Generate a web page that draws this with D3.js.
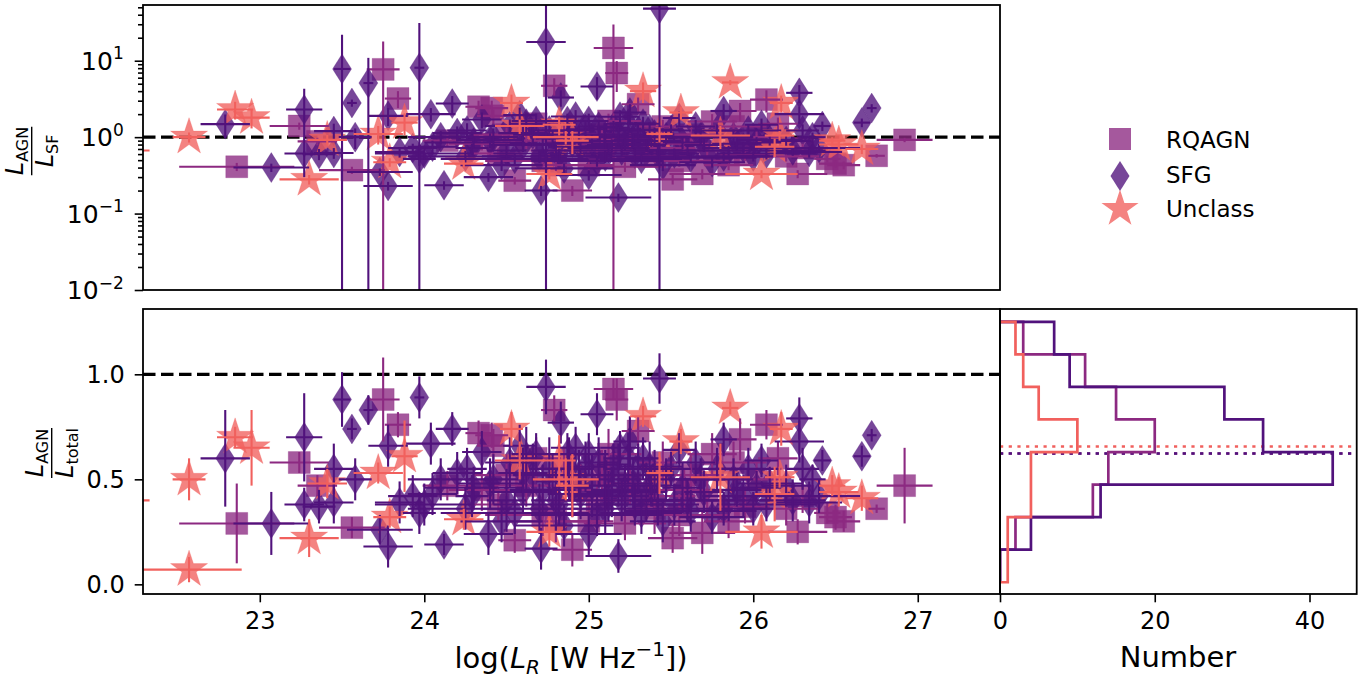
<!DOCTYPE html>
<html>
<head>
<meta charset="utf-8">
<script src="https://cdn.jsdelivr.net/npm/d3@7"></script>
<style>
  body { margin: 0; background: #fff; }
  text { font-family: "DejaVu Sans", sans-serif; }
</style>
</head>
<body>
<div id="chart"></div>
<script>

// ---------------- data ----------------
const classNames = ["RQAGN", "SFG", "Unclass"];

// RQAGN: log L_R, its error, L_AGN/L_total, its error, L_AGN/L_SF, its error
const rqagnLogL    = [22.86, 23.24, 23.75, 23.84, 23.56, 24.33, 24.41, 24.14, 23.35, 24.79, 25.15, 25.17, 24.55, 24.90, 26.08, 25.92, 26.27, 26.50, 26.75, 26.92, 25.30, 25.75, 25.69, 25.51, 24.62, 24.85, 25.05, 25.40, 25.58, 25.22, 26.30, 24.45, 24.72, 25.95, 24.42, 25.08, 26.45, 26.15,
                      24.50, 24.68, 24.95, 25.00, 25.12, 25.25, 25.35, 25.45, 25.62, 25.72, 25.85, 25.88, 26.02, 26.20, 24.35, 24.80, 25.55, 26.55];
const rqagnLogLErr = [0.35, 0.18, 0.10, 0.08, 0.20, 0.08, 0.10, 0.15, 0.12, 0.08, 0.12, 0.07, 0.10, 0.12, 0.10, 0.10, 0.18, 0.10, 0.05, 0.17, 0.10, 0.15, 0.20, 0.15, 0.20, 0.15, 0.30, 0.20, 0.15, 0.25, 0.10, 0.15, 0.35, 0.15, 0.10, 0.10, 0.08, 0.12,
                      0.20, 0.15, 0.25, 0.15, 0.20, 0.15, 0.30, 0.15, 0.20, 0.25, 0.15, 0.20, 0.15, 0.20, 0.20, 0.30, 0.30, 0.10];
const rqagnFrac    = [0.29, 0.58, 0.88, 0.76, 0.27, 0.72, 0.71, 0.47, 0.47, 0.83, 0.93, 0.88, 0.21, 0.165, 0.76, 0.69, 0.25, 0.32, 0.36, 0.47, 0.73, 0.62, 0.245, 0.22, 0.47, 0.55, 0.40, 0.36, 0.45, 0.29, 0.42, 0.38, 0.33, 0.37, 0.66, 0.52, 0.34, 0.60,
                      0.52, 0.60, 0.45, 0.30, 0.62, 0.48, 0.42, 0.58, 0.52, 0.40, 0.30, 0.58, 0.50, 0.36, 0.45, 0.30, 0.33, 0.30];
const rqagnFracErr = [0.19, 0.05, 0.20, 0.06, 0.05, 0.06, 0.06, 0.07, 0.05, 0.07, 0.05, 0.10, 0.06, 0.08, 0.07, 0.10, 0.06, 0.06, 0.02, 0.18, 0.07, 0.10, 0.10, 0.07, 0.10, 0.10, 0.10, 0.12, 0.10, 0.08, 0.08, 0.08, 0.10, 0.08, 0.08, 0.12, 0.05, 0.08,
                      0.10, 0.10, 0.12, 0.10, 0.12, 0.10, 0.10, 0.10, 0.10, 0.10, 0.08, 0.10, 0.08, 0.08, 0.10, 0.10, 0.10, 0.05];
const rqagnRatio   = [0.41, 1.40, 7.7, 3.2, 0.37, 2.5, 2.4, 0.90, 0.88, 4.7, 14.7, 6.9, 0.27, 0.20, 3.1, 2.2, 0.33, 0.45, 0.57, 0.92, 2.7, 1.6, 0.33, 0.28, 0.90, 1.2, 0.67, 0.56, 0.82, 0.41, 0.72, 0.61, 0.49, 0.59, 1.9, 1.08, 0.52, 1.5,
                      1.08, 1.5, 0.82, 0.43, 1.63, 0.92, 0.72, 1.38, 1.08, 0.67, 0.43, 1.38, 1.0, 0.56, 0.82, 0.43, 0.49, 0.43];
const rqagnRatioErr= [0.05, 0.15, 10.2, 0.8, 0.04, 0.5, 0.6, 0.15, 0.10, 1.2, 15, 3.0, 0.03, 0.03, 1.0, 0.6, 0.04, 0.05, 0.03, 0.06, 0.6, 0.4, 0.05, 0.04, 0.2, 0.3, 0.1, 0.1, 0.15, 0.06, 0.1, 0.1, 0.08, 0.1, 0.4, 0.3, 0.05, 0.3,
                      0.25, 0.35, 0.15, 0.07, 0.4, 0.2, 0.12, 0.3, 0.25, 0.1, 0.06, 0.3, 0.2, 0.08, 0.15, 0.07, 0.08, 0.05];

// SFG
const sfgLogL    = [22.79, 23.07, 23.27, 23.27, 23.50, 23.66, 23.56, 23.45, 23.58, 23.36, 23.45, 23.97, 23.78, 23.73, 24.12, 24.39, 24.17, 24.04, 23.78, 23.85, 23.93, 23.97, 24.29, 24.26, 24.42, 24.74, 24.83, 25.05, 24.71, 25.18, 25.43, 26.28, 26.28, 26.42, 26.05, 25.82, 25.19, 26.72, 26.66, 26.34, 24.52, 24.60, 24.66, 24.70, 24.78, 24.88, 24.95, 25.00, 25.05, 25.10, 25.15, 25.22, 25.28, 25.33, 25.38, 25.45, 25.50, 25.60, 25.68, 25.75, 25.90, 26.00, 26.20, 24.35, 24.47, 24.85, 24.58, 25.25, 24.20, 24.05, 25.55, 26.36, 25.97, 25.00, 24.92, 24.30, 24.62, 24.98, 25.12, 25.40, 25.65, 25.85, 26.10, 24.80, 25.30,
                    24.25, 24.40, 24.50, 24.55, 24.68, 24.72, 24.76, 24.82, 24.90, 24.94, 25.02, 25.06, 25.10, 25.14, 25.18, 25.20, 25.24, 25.27, 25.32, 25.35, 25.42, 25.47, 25.52, 25.57, 25.62, 25.70, 25.78, 25.82, 25.88, 25.94, 26.02, 26.08, 26.24, 26.30, 26.40, 24.10, 24.00, 24.60, 24.87, 25.37];
const sfgLogLErr = [0.15, 0.23, 0.11, 0.12, 0.05, 0.03, 0.03, 0.12, 0.10, 0.10, 0.12, 0.03, 0.15, 0.20, 0.12, 0.15, 0.10, 0.15, 0.12, 0.15, 0.15, 0.10, 0.10, 0.12, 0.15, 0.12, 0.08, 0.10, 0.10, 0.20, 0.10, 0.08, 0.15, 0.05, 0.10, 0.08, 0.12, 0.03, 0.05, 0.20, 0.15, 0.20, 0.12, 0.35, 0.10, 0.15, 0.20, 0.12, 0.40, 0.15, 0.10, 0.20, 0.30, 0.10, 0.18, 0.20, 0.12, 0.35, 0.15, 0.20, 0.15, 0.10, 0.15, 0.12, 0.25, 0.30, 0.10, 0.10, 0.15, 0.15, 0.10, 0.08, 0.20, 0.20, 0.15, 0.30, 0.10, 0.12, 0.25, 0.12, 0.12, 0.25, 0.20, 0.15, 0.20,
                    0.35, 0.20, 0.12, 0.45, 0.15, 0.20, 0.12, 0.40, 0.12, 0.25, 0.15, 0.12, 0.45, 0.15, 0.12, 0.35, 0.15, 0.12, 0.25, 0.12, 0.15, 0.30, 0.15, 0.12, 0.40, 0.12, 0.15, 0.30, 0.12, 0.25, 0.15, 0.30, 0.20, 0.10, 0.25, 0.20, 0.30, 0.15, 0.10, 0.20];
const sfgFrac    = [0.60, 0.29, 0.70, 0.38, 0.88, 0.83, 0.74, 0.55, 0.50, 0.37, 0.39, 0.89, 0.18, 0.26, 0.19, 0.24, 0.74, 0.67, 0.66, 0.39, 0.42, 0.34, 0.42, 0.55, 0.50, 0.94, 0.77, 0.81, 0.17, 0.135, 0.98, 0.79, 0.68, 0.59, 0.59, 0.69, 0.65, 0.71, 0.61, 0.39, 0.58, 0.44, 0.52, 0.36, 0.49, 0.55, 0.43, 0.62, 0.33, 0.50, 0.57, 0.45, 0.38, 0.60, 0.47, 0.30, 0.55, 0.40, 0.50, 0.32, 0.45, 0.36, 0.47, 0.63, 0.30, 0.28, 0.66, 0.68, 0.53, 0.43, 0.64, 0.50, 0.55, 0.24, 0.65, 0.46, 0.60, 0.56, 0.42, 0.52, 0.58, 0.40, 0.48, 0.40, 0.55,
                    0.36, 0.48, 0.40, 0.34, 0.62, 0.45, 0.55, 0.38, 0.46, 0.52, 0.47, 0.58, 0.36, 0.44, 0.52, 0.40, 0.60, 0.48, 0.34, 0.44, 0.40, 0.50, 0.38, 0.46, 0.35, 0.44, 0.55, 0.36, 0.50, 0.42, 0.46, 0.38, 0.40, 0.55, 0.42, 0.50, 0.38, 0.53, 0.62, 0.56];
const sfgFracErr = [0.23, 0.15, 0.21, 0.08, 0.13, 0.07, 0.05, 0.12, 0.10, 0.08, 0.10, 0.10, 0.10, 0.07, 0.05, 0.10, 0.08, 0.10, 0.10, 0.10, 0.10, 0.10, 0.10, 0.10, 0.12, 0.13, 0.10, 0.10, 0.10, 0.08, 0.12, 0.10, 0.10, 0.05, 0.08, 0.08, 0.08, 0.03, 0.05, 0.10, 0.12, 0.10, 0.15, 0.12, 0.13, 0.15, 0.12, 0.10, 0.10, 0.14, 0.10, 0.12, 0.10, 0.10, 0.10, 0.10, 0.08, 0.10, 0.10, 0.08, 0.08, 0.08, 0.10, 0.10, 0.10, 0.10, 0.10, 0.12, 0.10, 0.10, 0.08, 0.07, 0.10, 0.10, 0.10, 0.10, 0.15, 0.12, 0.12, 0.12, 0.10, 0.10, 0.08, 0.15, 0.12,
                    0.10, 0.12, 0.15, 0.10, 0.10, 0.12, 0.15, 0.10, 0.14, 0.12, 0.15, 0.12, 0.12, 0.12, 0.15, 0.10, 0.12, 0.12, 0.10, 0.14, 0.12, 0.10, 0.10, 0.12, 0.10, 0.10, 0.10, 0.08, 0.10, 0.10, 0.08, 0.08, 0.10, 0.10, 0.08, 0.10, 0.10, 0.12, 0.10, 0.12];
const sfgRatio   = [1.48, 0.40, 2.3, 0.61, 7.8, 5.1, 2.8, 1.2, 1.0, 0.60, 0.62, 8.1, 0.23, 0.35, 0.235, 0.30, 2.75, 2.0, 1.9, 0.64, 0.72, 0.52, 0.72, 1.22, 1.0, 17.6, 3.3, 4.6, 0.20, 0.162, 48, 3.8, 2.0, 1.4, 1.45, 2.2, 1.85, 2.4, 1.55, 0.64, 1.4, 0.79, 1.08, 0.56, 0.96, 1.22, 0.75, 1.63, 0.49, 1.0, 1.33, 0.82, 0.61, 1.5, 0.89, 0.43, 1.22, 0.67, 1.0, 0.47, 0.82, 0.56, 0.89, 1.7, 0.43, 0.39, 1.94, 2.1, 1.13, 0.75, 1.78, 1.0, 1.22, 0.32, 1.86, 0.85, 1.5, 1.27, 0.72, 1.08, 1.38, 0.67, 0.92, 0.67, 1.22,
                    0.56, 0.92, 0.67, 0.52, 1.63, 0.82, 1.22, 0.61, 0.85, 1.08, 0.89, 1.38, 0.56, 0.79, 1.08, 0.67, 1.5, 0.92, 0.52, 0.79, 0.67, 1.0, 0.61, 0.85, 0.54, 0.79, 1.22, 0.56, 1.0, 0.72, 0.85, 0.61, 0.67, 1.22, 0.72, 1.0, 0.61, 1.13, 1.63, 1.27];
const sfgRatioErr= [0.5, 0.05, 2.0, 0.05, 14, 5.8, 0.3, 0.3, 0.3, 0.1, 0.1, 23, 0.03, 0.04, 0.03, 0.04, 0.7, 0.4, 0.5, 0.1, 0.1, 0.1, 0.1, 0.3, 0.3, 40, 0.8, 1.5, 0.03, 0.02, 60, 1.0, 0.5, 0.2, 0.3, 0.5, 0.4, 0.3, 0.2, 0.1, 0.3, 0.15, 0.3, 0.1, 0.25, 0.3, 0.15, 0.4, 0.08, 0.3, 0.3, 0.15, 0.1, 0.35, 0.15, 0.07, 0.25, 0.1, 0.2, 0.07, 0.15, 0.08, 0.15, 0.4, 0.07, 0.06, 0.5, 0.6, 0.25, 0.15, 0.4, 0.15, 0.25, 0.05, 0.4, 0.15, 0.4, 0.3, 0.12, 0.25, 0.3, 0.1, 0.15, 0.12, 0.3,
                    0.1, 0.2, 0.15, 0.08, 0.4, 0.2, 0.3, 0.1, 0.2, 0.3, 0.2, 0.3, 0.1, 0.15, 0.3, 0.1, 0.4, 0.2, 0.08, 0.15, 0.1, 0.2, 0.1, 0.15, 0.08, 0.15, 0.25, 0.08, 0.2, 0.12, 0.15, 0.1, 0.1, 0.25, 0.1, 0.2, 0.1, 0.25, 0.4, 0.3];

// Unclass (null ratio = not shown in the upper panel)
const unclassLogL    = [22.57, 22.57, 22.85, 22.95, 23.30, 22.05, 23.41, 23.72, 23.88, 23.79, 24.24, 24.53, 24.58, 24.82, 24.90, 24.76, 25.33, 25.86, 25.56, 26.17, 26.48, 26.13, 26.16, 26.05, 25.80, 26.52, 26.66, 25.43, 24.86];
const unclassLogLErr = [0.10, 0.32, 0.11, 0.11, 0.18, 0.28, 0.12, 0.15, 0.08, 0.10, 0.12, 0.07, 0.15, 0.10, 0.10, 0.14, 0.08, 0.05, 0.07, 0.07, 0.08, 0.12, 0.09, 0.22, 0.18, 0.12, 0.10, 0.08, 0.20];
const unclassFrac    = [0.50, 0.07, 0.70, 0.65, 0.22, 0.40, 0.48, 0.53, 0.61, 0.32, 0.31, 0.74, 0.59, 0.59, 0.47, 0.25, 0.80, 0.84, 0.68, 0.74, 0.47, 0.43, 0.51, 0.25, 0.51, 0.44, 0.41, 0.53, 0.50];
const unclassFracErr = [0.10, 0.06, 0.05, 0.18, 0.09, 0.02, 0.07, 0.05, 0.17, 0.05, 0.05, 0.08, 0.09, 0.12, 0.15, 0.07, 0.05, 0.03, 0.06, 0.08, 0.05, 0.13, 0.05, 0.08, 0.16, 0.07, 0.06, 0.10, 0.10];
const unclassRatio   = [1.0, null, 2.3, 1.8, 0.28, 0.67, 0.92, 1.1, 1.55, 0.47, 0.45, 2.8, 1.4, 1.45, 0.9, 0.33, 4.0, 5.2, 2.1, 2.8, 0.9, 0.75, 1.05, 0.33, 1.05, 0.8, 0.7, 1.1, 1.0];
const unclassRatioErr= [0.15, null, 0.6, 0.5, 0.04, 0.02, 0.15, 0.3, 0.5, 0.06, 0.05, 0.8, 0.3, 0.4, 0.3, 0.05, 1.2, 0.4, 0.4, 0.7, 0.1, 0.2, 0.15, 0.04, 0.35, 0.1, 0.1, 0.25, 0.2];

// histogram of L_AGN/L_total (horizontal, step)
const histEdges     = [0.01, 0.165, 0.32, 0.475, 0.63, 0.785, 0.94, 1.095, 1.25];
const rqagnCounts   = [0, 2, 12, 14, 20, 15, 11, 3];
const sfgCounts     = [0, 4, 13, 43, 34, 29, 9, 7];
const unclassCounts = [1, 1, 4, 4, 10, 5, 3, 2];
const histMedians   = [0.623, 0.623, 0.656];

// ticks
const topTicks    = [0.01, 0.1, 1, 10];
const topTickExp  = ["\u22122", "\u22121", "0", "1"];
const bottomTicks = [0.0, 0.5, 1.0];
const xTicks      = [23, 24, 25, 26, 27];
const histTicks   = [0, 20, 40];

// ---------------- layout ----------------
const width = 1369, height = 680;
const upperBox = {left: 143, right: 1000, top: 5, bottom: 290};
const lowerBox = {left: 143, right: 1000, top: 309, bottom: 594};
const histBox = {left: 1000, right: 1356.7, top: 309, bottom: 594};

const colors = {RQAGN: "#8c2981", SFG: "#51127c", Unclass: "#f1605d"};

let svg = d3.select("#chart").append("svg")
    .attr("width", width)
    .attr("height", height);

// scales
let x = d3.scaleLinear().domain([22.29, 27.5]).range([upperBox.left, upperBox.right]);
let yTop = d3.scaleLog().domain([0.01, 53.6]).range([upperBox.bottom, upperBox.top]);
let yBot = d3.scaleLinear().domain([-0.046, 1.311]).range([lowerBox.bottom, lowerBox.top]);
let xHist = d3.scaleLinear().domain([0, 46.1]).range([histBox.left, histBox.right]);

// marker shapes
function starPath(R) {
    let pts = [];
    for (let i = 0; i < 10; i++) {
        let r = i % 2 === 0 ? R : R * 0.382;
        let a = -Math.PI / 2 + i * Math.PI / 5;
        pts.push([r * Math.cos(a), r * Math.sin(a)]);
    }
    return "M" + pts.map(p => p[0].toFixed(2) + "," + p[1].toFixed(2)).join("L") + "Z";
}
const markers = {
    RQAGN: "M-11,-11H11V11H-11Z",
    SFG: "M0,-15L9.5,0L0,15L-9.5,0Z",
    Unclass: starPath(19.5)
};

function makeRows(logL, logLErr, frac, fracErr, ratio, ratioErr) {
    return logL.map((d, i) => ({x: d, xe: logLErr[i], f: frac[i], fe: fracErr[i], r: ratio[i], re: ratioErr[i]}));
}
const series = [
    {name: "RQAGN", rows: makeRows(rqagnLogL, rqagnLogLErr, rqagnFrac, rqagnFracErr, rqagnRatio, rqagnRatioErr), counts: rqagnCounts},
    {name: "SFG", rows: makeRows(sfgLogL, sfgLogLErr, sfgFrac, sfgFracErr, sfgRatio, sfgRatioErr), counts: sfgCounts},
    {name: "Unclass", rows: makeRows(unclassLogL, unclassLogLErr, unclassFrac, unclassFracErr, unclassRatio, unclassRatioErr), counts: unclassCounts}
];

// clip paths
let defs = svg.append("defs");
[["clipTop", upperBox], ["clipBot", lowerBox], ["clipHist", histBox]].forEach(([id, b]) => {
    defs.append("clipPath").attr("id", id).append("rect")
        .attr("x", b.left).attr("y", b.top)
        .attr("width", b.right - b.left).attr("height", b.bottom - b.top);
});

function dashedOne(g, y) {
    g.append("line")
        .attr("x1", upperBox.left).attr("x2", upperBox.right)
        .attr("y1", y).attr("y2", y)
        .attr("stroke", "black").attr("stroke-width", 3.2)
        .attr("stroke-dasharray", "12.5,5.5");
}

// error bars of one class
function drawBars(g, s, yScale, yKey, eKey, yFloor) {
    let pts = s.rows.filter(d => d[yKey] !== null);
    let bars = g.append("g").attr("stroke", colors[s.name]).attr("stroke-width", 2.1);
    bars.selectAll(".xe")
        .data(pts)
        .join("line")
        .attr("class", "xe")
        .attr("x1", d => x(d.x - d.xe))
        .attr("x2", d => x(d.x + d.xe))
        .attr("y1", d => yScale(d[yKey]))
        .attr("y2", d => yScale(d[yKey]));
    bars.selectAll(".ye")
        .data(pts)
        .join("line")
        .attr("class", "ye")
        .attr("x1", d => x(d.x))
        .attr("x2", d => x(d.x))
        .attr("y1", d => {
            let lo = d[yKey] - d[eKey];
            return lo > 0 ? yScale(lo) : yFloor;
        })
        .attr("y2", d => yScale(d[yKey] + d[eKey]));
}

function drawMarkers(g, s, yScale, yKey) {
    let pts = s.rows.filter(d => d[yKey] !== null);
    g.append("g").selectAll("path")
        .data(pts)
        .join("path")
        .attr("d", markers[s.name])
        .attr("transform", d => "translate(" + x(d.x) + "," + yScale(d[yKey]) + ")")
        .attr("fill", colors[s.name])
        .attr("fill-opacity", 0.78)
        .attr("stroke", colors[s.name])
        .attr("stroke-opacity", 0.25)
        .attr("stroke-width", 1);
}

// ---------------- top panel: L_AGN / L_SF ----------------
let gTop = svg.append("g").attr("clip-path", "url(#clipTop)");
dashedOne(gTop, yTop(1));
series.forEach(s => drawMarkers(gTop, s, yTop, "r"));
series.forEach(s => drawBars(gTop, s, yTop, "r", "re", upperBox.bottom + 20));

// ---------------- bottom panel: L_AGN / L_total ----------------
let gBot = svg.append("g").attr("clip-path", "url(#clipBot)");
dashedOne(gBot, yBot(1.0));
series.forEach(s => drawMarkers(gBot, s, yBot, "f"));
series.forEach(s => drawBars(gBot, s, yBot, "f", "fe", lowerBox.bottom + 20));

// ---------------- histogram panel ----------------
let gHist = svg.append("g").attr("clip-path", "url(#clipHist)");
series.forEach((s, k) => {
    gHist.append("line")
        .attr("x1", histBox.left).attr("x2", histBox.right)
        .attr("y1", yBot(histMedians[k])).attr("y2", yBot(histMedians[k]))
        .attr("stroke", colors[s.name])
        .attr("stroke-width", 2.6)
        .attr("stroke-dasharray", "3.2,5.5");
});
series.forEach(s => {
    let pts = [[0, histEdges[0]]];
    s.counts.forEach((c, i) => {
        pts.push([c, histEdges[i]]);
        pts.push([c, histEdges[i + 1]]);
    });
    pts.push([0, histEdges[histEdges.length - 1]]);
    gHist.append("path")
        .attr("d", d3.line().x(p => xHist(p[0])).y(p => yBot(p[1]))(pts))
        .attr("fill", "none")
        .attr("stroke", colors[s.name])
        .attr("stroke-width", 2.7)
        .attr("stroke-linejoin", "miter");
});

// ---------------- axes ----------------
function styleAxis(g, size) {
    g.select(".domain").remove();
    g.selectAll(".tick line").attr("stroke", "black").attr("stroke-width", 1.6);
    g.selectAll(".tick text").attr("fill", "black").attr("font-size", size)
        .attr("font-family", "DejaVu Sans, sans-serif");
}

// top: log y axis, major + minor ticks
let topMinor = [];
[0.01, 0.1, 1, 10].forEach(dec => {
    for (let m = 2; m <= 9; m++) {
        if (dec * m <= 53.6) topMinor.push(dec * m);
    }
});
svg.append("g")
    .attr("transform", "translate(" + upperBox.left + ",0)")
    .call(d3.axisLeft(yTop).tickValues(topMinor).tickSize(5).tickFormat(""))
    .call(g => styleAxis(g, 24));
let topAxis = svg.append("g")
    .attr("transform", "translate(" + upperBox.left + ",0)")
    .call(d3.axisLeft(yTop).tickValues(topTicks).tickSize(8.3).tickPadding(11).tickFormat(""))
    .call(g => styleAxis(g, 25));
topAxis.selectAll(".tick text").each(function(d, i) {
    let t = d3.select(this).attr("dy", "0.35em");
    t.append("tspan").text("10");
    t.append("tspan").attr("font-size", 17).attr("dy", "-0.62em").text(topTickExp[i]);
});

// bottom: linear y axis
svg.append("g")
    .attr("transform", "translate(" + lowerBox.left + ",0)")
    .call(d3.axisLeft(yBot).tickValues(bottomTicks).tickSize(8.3).tickPadding(10).tickFormat(d3.format(".1f")))
    .call(g => styleAxis(g, 24));

// shared x axis below the bottom panel
svg.append("g")
    .attr("transform", "translate(0," + lowerBox.bottom + ")")
    .call(d3.axisBottom(x).tickValues(xTicks).tickSize(8.3).tickPadding(10).tickFormat(d3.format("d")))
    .call(g => styleAxis(g, 24));

// histogram x axis
svg.append("g")
    .attr("transform", "translate(0," + histBox.bottom + ")")
    .call(d3.axisBottom(xHist).tickValues(histTicks).tickSize(8.3).tickPadding(10).tickFormat(d3.format("d")))
    .call(g => styleAxis(g, 24));

// spines
[upperBox, lowerBox, histBox].forEach(b => {
    svg.append("rect")
        .attr("x", b.left).attr("y", b.top)
        .attr("width", b.right - b.left).attr("height", b.bottom - b.top)
        .attr("fill", "none").attr("stroke", "black").attr("stroke-width", 1.8);
});

// ---------------- labels ----------------
function fracLabel(cx, cy, numSub, denSub) {
    let g = svg.append("g").attr("transform", "translate(" + cx + "," + cy + ") rotate(-90)");
    let num = g.append("text").attr("text-anchor", "middle").attr("y", -9).attr("font-size", 24);
    num.append("tspan").attr("font-style", "italic").text("L");
    num.append("tspan").attr("font-size", 16).attr("dy", 5).text(numSub);
    let den = g.append("text").attr("text-anchor", "middle").attr("y", 21).attr("font-size", 24);
    den.append("tspan").attr("font-style", "italic").text("L");
    den.append("tspan").attr("font-size", 16).attr("dy", 5).text(denSub);
    let w = Math.max(num.node().getBBox().width, den.node().getBBox().width);
    g.append("line")
        .attr("x1", -w / 2).attr("x2", w / 2)
        .attr("stroke", "black").attr("stroke-width", 1.4);
}
fracLabel(31.7, 151, "AGN", "SF");
fracLabel(51.7, 453, "AGN", "total");

// x label
let xl = svg.append("text")
    .attr("x", 571).attr("y", 668)
    .attr("text-anchor", "middle")
    .attr("font-size", 29);
xl.append("tspan").text("log(");
xl.append("tspan").attr("font-style", "italic").text("L");
xl.append("tspan").attr("font-style", "italic").attr("font-size", 20).attr("dy", 6).text("R");
xl.append("tspan").attr("dy", -6).text(" [W Hz");
xl.append("tspan").attr("font-size", 20).attr("dy", -12).text("\u22121");
xl.append("tspan").attr("dy", 12).text("])");

svg.append("text")
    .attr("x", 1178).attr("y", 667)
    .attr("text-anchor", "middle")
    .attr("font-size", 29)
    .text("Number");

// ---------------- legend ----------------
const legendY = [139, 176, 209];
const legendTextY = [147.5, 182.5, 217];
series.forEach((s, k) => {
    svg.append("path")
        .attr("d", markers[s.name])
        .attr("transform", "translate(1120," + legendY[k] + ")")
        .attr("fill", colors[s.name])
        .attr("fill-opacity", 0.78);
    svg.append("text")
        .attr("x", 1166).attr("y", legendTextY[k])
        .attr("font-size", 23)
        .text(classNames[k]);
});

</script>
</body>
</html>
